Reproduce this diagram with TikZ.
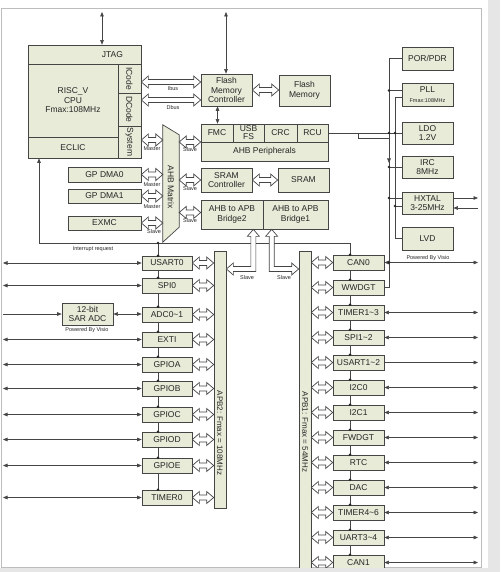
\documentclass[tikz,border=0pt]{standalone}
\usepackage{fontspec}
\setmainfont{Liberation Sans}
\usepackage{graphicx}
\usetikzlibrary{arrows.meta,calc}
\pgfdeclarelayer{bg}
\pgfsetlayers{bg,main}
\definecolor{boxfill}{HTML}{E8EBD8}
\definecolor{edge}{HTML}{454545}
\definecolor{ink}{HTML}{262626}
\definecolor{framec}{HTML}{BDBDBD}
\definecolor{pagegray}{HTML}{E6E6E6}
\newcommand\bxfont{\fontsize{8.5}{9.5}\selectfont}
\newcommand\tinyfnt{\fontsize{5.5}{6}\selectfont}
\newcommand\mybox[7][]{\node[box,minimum width={(#5-#3)*1pt},minimum height={(#6-#4)*1pt},#1] (#2) at ({(#3+#5)/2},{(#4+#6)/2}) {#7};}
\newcommand\hdarr[2]{\draw[hollow] let \p1=(#1), \p2=(#2) in
  (\x1,\y1) -- (\x1+7pt,\y1+6pt) -- (\x1+7pt,\y1+2.5pt) -- (\x2-7pt,\y1+2.5pt) -- (\x2-7pt,\y1+6pt) -- (\x2,\y1)
  -- (\x2-7pt,\y1-6pt) -- (\x2-7pt,\y1-2.5pt) -- (\x1+7pt,\y1-2.5pt) -- (\x1+7pt,\y1-6pt) -- cycle;}
\newcommand\jdot[1]{\fill[ink] (#1) circle (1.4pt);}
\begin{document}
\begin{tikzpicture}[x=1pt,y=-1pt,
  box/.style={draw=edge,fill=boxfill,line width=0.7pt,inner sep=0pt,text=ink,font=\bxfont,align=center},
  lbl/.style={font=\tinyfnt,text=ink,inner sep=0pt},
  hollow/.style={draw=edge,fill=white,line width=0.7pt,line join=miter},
  wire/.style={draw=edge,line width=0.6pt},
  >={Triangle[length=4.5pt,width=3.6pt]}]
\useasboundingbox (0,0) rectangle (500,572);

% named helper coordinates
\coordinate (lefte) at (3,0);
\coordinate (righte) at (478,0);
\coordinate (busA) at (389,0);
\coordinate (busB) at (395,0);
\coordinate (chainL) at (158,0);
\coordinate (chainR) at (350,0);
\coordinate (irqL) at (39,243);
\coordinate (jtagtop) at (102,12);
\coordinate (fctop) at (226,12);
\coordinate (bend) at (0,269);
\coordinate (stepc) at (358,133);
\coordinate (stepd) at (358,138);

% ---------- boxes ----------
\mybox[text width=77pt,align=right]{jtag}{28}{45}{141}{64}{JTAG}
\mybox{cpucore}{28}{64}{118}{137}{RISC\_V\\CPU\\Fmax:108MHz}
\mybox{eclic}{28}{137}{118}{158}{ECLIC}
\mybox{icode}{118}{64}{141}{93}{\rotatebox{-90}{ICode}}
\mybox{dcode}{118}{93}{141}{126}{\rotatebox{-90}{DCode}}
\mybox{sysbus}{118}{126}{141}{158}{\rotatebox{-90}{System}}
\mybox{dma0}{68}{167}{141}{182}{GP DMA0}
\mybox{dma1}{68}{189}{141}{203}{GP DMA1}
\mybox{exmc}{68}{216}{141}{230}{EXMC}

\node[inner sep=0pt,minimum width=16pt,minimum height=117pt] (ahbmx) at (171,183.5) {};
\draw[draw=edge,fill=boxfill,line width=0.7pt] (ahbmx.north west) -- ([yshift=-10pt]ahbmx.north east) -- ([yshift=15pt]ahbmx.south east) -- (ahbmx.south west) -- cycle;
\node[font=\bxfont,text=ink,rotate=-90,inner sep=0pt] (ahbmxlbl) at (171,187) {AHB Matrix};

\mybox{flashctl}{201}{74}{252}{106}{Flash\\Memory\\Controller}
\mybox{flashmem}{279}{75}{330}{106}{Flash\\Memory}
\mybox{fmc}{201}{124}{233}{142}{FMC}
\mybox[font=\fontsize{8.5}{8}\selectfont]{usbfs}{233}{124}{264}{142}{USB\\FS}
\mybox{crc}{264}{124}{297}{142}{CRC}
\mybox{rcu}{297}{124}{328}{142}{RCU}
\mybox{ahbperi}{201}{142}{328}{161}{AHB Peripherals}
\mybox{sramctl}{201}{168}{252}{192}{SRAM\\Controller}
\mybox{sram}{278}{168}{329}{192}{SRAM}
\mybox{bridgetwo}{201}{200}{263}{229}{AHB to APB\\Bridge2}
\mybox{bridgeone}{263}{200}{328}{229}{AHB to APB\\Bridge1}

\mybox{por}{402}{47}{453}{70}{POR/PDR}
\mybox{pll}{402}{83}{453}{106}{PLL\\{\tinyfnt Fmax:108MHz}}
\mybox{ldo}{402}{122}{453}{144}{LDO\\1.2V}
\mybox{irc}{402}{156}{453}{178}{IRC\\8MHz}
\mybox{hxtal}{402}{192}{453}{214}{HXTAL\\3-25MHz}
\mybox{lvd}{402}{227}{453}{250}{LVD}
\node[lbl] (pwrone) at (428,258) {Powered By Visio};

% APB bars
\mybox{apbtwo}{214}{251}{226}{508}{}
\node[font=\fontsize{8}{9}\selectfont,text=ink,rotate=-90,inner sep=0pt] (apbtwolbl) at (220,433) {APB2: Fmax = 108MHz};
\mybox{apbone}{299}{251}{311}{575}{}
\node[font=\fontsize{8}{9}\selectfont,text=ink,rotate=-90,inner sep=0pt] (apbonelbl) at (305,432) {APB1: Fmax = 54MHz};

% left peripherals
\foreach \nm/\ya/\yb/\tx in {usart0/256/270/USART0, spi0/278/293/SPI0, adc/307/322/ADC0\textasciitilde 1, exti/332/347/EXTI, gpioa/357/372/GPIOA, gpiob/381/396/GPIOB, gpioc/407/422/GPIOC, gpiod/432/447/GPIOD, gpioe/458/473/GPIOE, timer0/490/505/TIMER0}
  {\mybox{\nm}{142}{\ya}{192}{\yb}{\tx}}
\mybox{sar}{62}{303}{113}{325}{12-bit\\SAR ADC}
\node[lbl] (pwrtwo) at (87,330) {Powered By Visio};

% right peripherals
\foreach \nm/\tx [count=\i from 0] in {can0/CAN0, wwdgt/WWDGT, timerA/TIMER1\textasciitilde 3, spiA/SPI1\textasciitilde 2, usartA/USART1\textasciitilde 2, iicA/I2C0, iicB/I2C1, fwdgt/FWDGT, rtc/RTC, dac/DAC, timerB/TIMER4\textasciitilde 6, uartA/UART3\textasciitilde 4, can1/CAN1}
  {\pgfmathsetmacro\ya{255+25*\i}\pgfmathsetmacro\yb{\ya+15}\mybox{\nm}{333}{\ya}{384}{\yb}{\tx}}

% ---------- background wires ----------
\begin{pgfonlayer}{bg}
\fill[white] (0,0) rectangle (500,572);
\draw[framec,line width=0.8pt] (1.5,8) rectangle (481,567);
\draw[wire,<->] (jtagtop) -- (jtagtop |- jtag.north);
\draw[wire,<->] (fctop) -- (fctop |- flashctl.north);
\draw[wire,<->] ([xshift=-9pt]flashctl.south) -- ([xshift=-9pt]flashctl.south |- fmc.north);
\draw[wire,->] (irqL) -- (irqL |- eclic.south);
\draw[wire] (irqL) -- (irqL -| chainR) -- (can0.north -| chainR);
\draw[wire] (irqL -| chainL) -- (timer0.north -| chainL);
\draw[wire] (can0.north -| chainR) -- (can1.north -| chainR);
% clock tree
\draw[wire] (por.west) -- (por.west -| busA) -- (wwdgt.east -| busA) -- (wwdgt.east);
\draw[wire] ([yshift=4pt]pll.west) -- ([yshift=4pt]pll.west -| busA);
\draw[wire] ([yshift=-3pt]pll.west) -- ([yshift=-3pt]pll.west -| busB) -- (lvd.west -| busB) -- (lvd.west);
\draw[wire] (rcu.east) -- (ldo.west);
\draw[wire] (stepc) -- (stepd) -- (stepd -| busA);
\draw[wire] (irc.west) -- (irc.west -| busA);
\draw[wire,->] ([yshift=11pt]irc.west -| busA) -- ([yshift=4pt]irc.west -| busA);
\draw[wire] ([yshift=5pt]hxtal.west) -- ([yshift=5pt]hxtal.west -| busA);
\draw[wire] ([yshift=-3pt]hxtal.west) -- ([yshift=-3pt]hxtal.west -| busB);
\draw[wire,->] ([yshift=5pt]hxtal.east) -- ([yshift=5pt]hxtal.east -| righte);
\draw[wire,<-] ([yshift=-5pt]hxtal.east) -- ([yshift=-5pt]hxtal.east -| righte);
% left edge arrows
\foreach \nm in {usart0,spi0,exti,gpioa,gpiob,gpioc,gpiod,gpioe,timer0}
  {\draw[wire,<->] (\nm.west) -- (\nm.west -| lefte);}
\draw[wire,->] (lefte |- sar.west) -- (sar.west);
\draw[wire,<->] (sar.east) -- (sar.east -| adc.west);
% right edge arrows
\foreach \nm in {can0,timerA,spiA,iicA,iicB,fwdgt,rtc,dac,timerB,uartA,can1}
  {\draw[wire,<->] (\nm.east) -- (\nm.east -| righte);}
\draw[wire,->] (usartA.east) -- (usartA.east -| righte);
\end{pgfonlayer}

% ---------- hollow bus arrows ----------
\hdarr{[yshift=-3.5pt]icode.east}{flashctl.west}
\hdarr{[yshift=9.5pt]dcode.east}{flashctl.west}
\hdarr{[yshift=2pt]sysbus.east}{ahbmx.west}
\hdarr{dma0.east}{ahbmx.west}
\hdarr{dma1.east}{ahbmx.west}
\hdarr{exmc.east}{ahbmx.west}
\hdarr{ahbmx.east |- sysbus.east}{fmc.west}
\hdarr{ahbmx.east |- sramctl.west}{sramctl.west}
\hdarr{[yshift=2pt]ahbmx.east |- bridgetwo.west}{bridgetwo.west}
\hdarr{flashctl.east}{flashmem.west}
\hdarr{sramctl.east}{sram.west}
\foreach \nm in {usart0,spi0,adc,exti,gpioa,gpiob,gpioc,gpiod,gpioe,timer0}
  {\hdarr{\nm.east}{apbtwo.west}}
\foreach \nm in {can0,wwdgt,timerA,spiA,usartA,iicA,iicB,fwdgt,rtc,dac,timerB,uartA,can1}
  {\hdarr{apbone.east |- \nm.west}{\nm.west}}
% L-shaped bridge arrows
\draw[hollow] let \p1=([xshift=-10pt]bridgetwo.south east), \p2=(apbtwo.east |- bend) in
  (\x1,\y1) -- (\x1+6pt,\y1-7pt) -- (\x1+2.5pt,\y1-7pt) -- (\x1+2.5pt,\y2-2.5pt) -- (\x2+7pt,\y2-2.5pt)
  -- (\x2+7pt,\y2-6pt) -- (\x2,\y2) -- (\x2+7pt,\y2+6pt) -- (\x2+7pt,\y2+2.5pt) -- (\x1-2.5pt,\y2+2.5pt)
  -- (\x1-2.5pt,\y1-7pt) -- (\x1-6pt,\y1-7pt) -- cycle;
\draw[hollow] let \p1=([xshift=9pt]bridgeone.south west), \p2=(apbone.west |- bend) in
  (\x1,\y1) -- (\x1+6pt,\y1-7pt) -- (\x1+2.5pt,\y1-7pt) -- (\x1+2.5pt,\y2+2.5pt) -- (\x2-7pt,\y2+2.5pt)
  -- (\x2-7pt,\y2+6pt) -- (\x2,\y2) -- (\x2-7pt,\y2-6pt) -- (\x2-7pt,\y2-2.5pt) -- (\x1-2.5pt,\y2-2.5pt)
  -- (\x1-2.5pt,\y1-7pt) -- (\x1-6pt,\y1-7pt) -- cycle;

% ---------- dots ----------
\jdot{irqL -| chainL}
\foreach \nm in {usart0,spi0,adc,exti,gpioa,gpiob,gpioc,gpiod,gpioe,timer0}
  {\jdot{\nm.north -| chainL}}
\foreach \nm in {can0,wwdgt,timerA,spiA,usartA,iicA,iicB,fwdgt,rtc,dac,timerB,uartA,can1}
  {\jdot{\nm.north -| chainR}}
\jdot{[yshift=4pt]pll.west -| busA}
\jdot{ldo.west -| busA}
\jdot{ldo.west -| busB}
\jdot{irc.west -| busA}
\jdot{[yshift=5pt]hxtal.west -| busA}
\jdot{[yshift=-3pt]hxtal.west -| busB}
\jdot{can0.east -| busA}

% ---------- small labels ----------
\node[lbl] (ibuslbl) at (173,89) {Ibus};
\node[lbl] (dbuslbl) at (173,108) {Dbus};
\node[lbl] (mst1) at (152,149) {Master};
\node[lbl] (mst2) at (152,185) {Master};
\node[lbl] (mst3) at (152,207) {Master};
\node[lbl] (slv0) at (154,232) {Slave};
\node[lbl] (slv1) at (190,150) {Slave};
\node[lbl] (slv2) at (190,189) {Slave};
\node[lbl] (slv3) at (190,221) {Slave};
\node[lbl] (slv4) at (247,278) {Slave};
\node[lbl] (slv5) at (284,278) {Slave};
\node[lbl] (irqlbl) at (93,249) {Interrupt request};

% page edges
\fill[pagegray] (488,0) rectangle (500,572);
\fill[pagegray] (0,567.5) rectangle (500,572);
\end{tikzpicture}
\end{document}
